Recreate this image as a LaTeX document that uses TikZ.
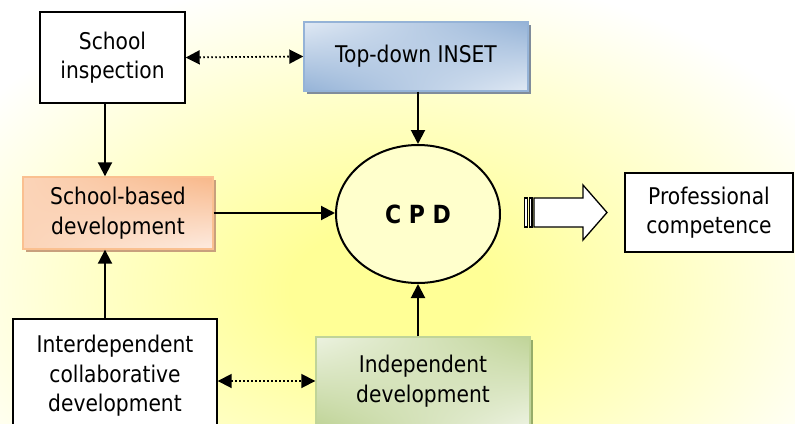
\documentclass[tikz,border=0pt]{standalone}
\usepackage{fontspec}
\setmainfont[FakeStretch=0.88]{DejaVu Sans}
\usetikzlibrary{arrows.meta,shadows,shadings,shapes.geometric}

% palette
\definecolor{glowc}{RGB}{255,255,150}
\definecolor{glowm}{RGB}{255,255,196}
\definecolor{cpdfill}{RGB}{255,255,204}
\definecolor{blueD}{RGB}{149,179,215}
\definecolor{blueL}{RGB}{224,233,244}
\definecolor{blueShadow}{RGB}{128,140,155}
\definecolor{orD}{RGB}{248,184,138}
\definecolor{orM}{RGB}{251,212,184}
\definecolor{orL}{RGB}{253,235,224}
\definecolor{orEdge}{RGB}{250,192,144}
\definecolor{orShadow}{RGB}{200,160,125}
\definecolor{grD}{RGB}{192,212,152}
\definecolor{grL}{RGB}{236,242,224}
\definecolor{grShadow}{RGB}{150,172,105}

% background glow
\pgfdeclareradialshading{glow}{\pgfpoint{0bp}{0bp}}{color(0bp)=(glowc); color(5bp)=(glowc); color(14bp)=(glowm); color(25bp)=(white); color(50bp)=(white)}

\newcommand\boxfont{\fontsize{23}{29.5}\selectfont}

\tikzset{
  plainbox/.style={draw=black, line width=1.4pt, fill=white, align=center,
    font=\boxfont, inner sep=0pt},
  tintbox/.style={line width=1.4pt, align=center, font=\boxfont, inner sep=0pt},
  bluebox/.style={tintbox, draw=blueD,
    upper left=blueL, upper right=blueD, lower left=blueD, lower right=blueL,
    general shadow={fill=blueShadow, shadow xshift=3pt, shadow yshift=-3pt}},
  orangebox/.style={tintbox, draw=orEdge,
    upper left=orM, upper right=orD, lower left=orM, lower right=orL,
    general shadow={fill=orShadow, shadow xshift=3pt, shadow yshift=-3pt}},
  greenbox/.style={tintbox, draw=grD,
    upper left=grL, upper right=grD, lower left=grD, lower right=grL,
    general shadow={fill=grShadow, shadow xshift=3pt, shadow yshift=-3pt}},
  link/.style={line width=2pt, -{Triangle[length=14pt,width=14pt]}},
  twoway/.style={line width=1.8pt, dash pattern=on 1.6pt off 2.4pt,
    {Triangle[length=14pt,width=14pt]}-{Triangle[length=14pt,width=14pt]}},
}

\begin{document}
\begin{tikzpicture}[x=1pt, y=-1pt]
  \clip (0,0) rectangle (795,423);
  \fill[white] (0,0) rectangle (795,423);
  \shade[shading=glow] (390,290) ellipse [x radius=500, y radius=320];

  % boxes
  \node[plainbox, minimum width=145pt, minimum height=91pt] (insp) at (112.5,57.5) {School\\inspection};
  \node[bluebox, minimum width=224pt, minimum height=69pt] (inset) at (416,56.5) {Top-down INSET};
  \node[orangebox, minimum width=190pt, minimum height=72pt] (school) at (118,213) {School-based\\development};
  \node[draw=black, line width=2pt, fill=cpdfill, ellipse, inner sep=0pt,
        minimum width=164pt, minimum height=138pt,
        font=\fontsize{25}{28}\selectfont\bfseries] (cpd) at (418,214) {C P D};
  \node[plainbox, minimum width=168pt, minimum height=79pt] (prof) at (709,212.5) {Professional\\competence};
  \node[plainbox, minimum width=204pt, minimum height=114pt] (inter) at (115,376) {Interdependent\\collaborative\\development};
  \node[greenbox, minimum width=214pt, minimum height=88pt] (indep) at (423,381) {Independent\\development};

  % connectors
  \coordinate (lane) at (105,0);
  \draw[link] (insp.south -| lane) -- (school.north -| lane);
  \draw[link] (inter.north -| lane) -- (school.south -| lane);
  \draw[link] (inset.south -| cpd.north) -- (cpd.north);
  \draw[link] (indep.north -| cpd.south) -- (cpd.south);
  \draw[link] (school.east) -- (school.east -| cpd.west);
  \draw[twoway] (insp.east) -- (inset.west);
  \draw[twoway] (indep.west -| inter.east) -- (indep.west);

  % hollow block arrow towards the outcome
  \draw[line width=1.3pt, fill=white, line join=miter]
    (534,198) -- (583,198) -- (583,185) -- (607,212.5) -- (583,240) -- (583,227) -- (534,227) -- cycle;
  \draw[line width=1.3pt, fill=white] (524.5,198) rectangle (527.5,227);
  \draw[line width=1.3pt, fill=white] (529.5,198) rectangle (532,227);
\end{tikzpicture}
\end{document}
